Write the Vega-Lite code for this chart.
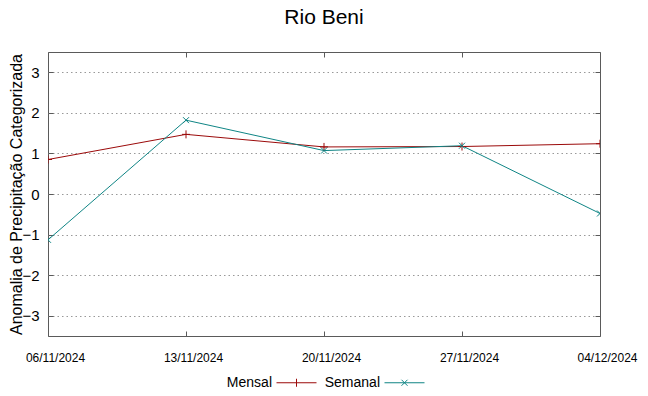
{
  "$schema": "https://vega.github.io/schema/vega-lite/v6.json",
  "width": 552,
  "height": 284,
  "autosize": {"type": "none"},
  "padding": {"left": 48, "top": 52, "right": 48, "bottom": 60},
  "background": "white",
  "title": {"text": "Rio Beni", "fontSize": 21, "font": "Liberation Sans", "fontWeight": "normal", "color": "#000000", "anchor": "middle", "offset": 24},
  "config": {
    "view": {"stroke": "#5a5a5a", "strokeWidth": 1},
    "font": "Liberation Sans",
    "legend": {
      "title": null,
      "orient": "none",
      "legendX": 228,
      "legendY": 310,
      "direction": "horizontal",
      "padding": 0,
      "labelFontSize": 14,
      "labelColor": "#000000",
      "labelAlign": "right",
      "labelOffset": -45,
      "symbolSize": 1600,
      "symbolStrokeWidth": 1,
      "symbolOpacity": 1,
      "columnPadding": 5
    }
  },
  "data": {
    "values": [
      {"data": "06/11/2024", "serie": "Mensal", "valor": 0.85},
      {"data": "13/11/2024", "serie": "Mensal", "valor": 1.47},
      {"data": "20/11/2024", "serie": "Mensal", "valor": 1.16},
      {"data": "27/11/2024", "serie": "Mensal", "valor": 1.17},
      {"data": "04/12/2024", "serie": "Mensal", "valor": 1.24},
      {"data": "06/11/2024", "serie": "Semanal", "valor": -1.13},
      {"data": "13/11/2024", "serie": "Semanal", "valor": 1.82},
      {"data": "20/11/2024", "serie": "Semanal", "valor": 1.07},
      {"data": "27/11/2024", "serie": "Semanal", "valor": 1.19},
      {"data": "04/12/2024", "serie": "Semanal", "valor": -0.48}
    ]
  },
  "encoding": {
    "x": {
      "field": "data", "type": "ordinal",
      "sort": ["06/11/2024", "13/11/2024", "20/11/2024", "27/11/2024", "04/12/2024"],
      "scale": {"type": "point", "padding": 0}
    },
    "y": {
      "field": "valor", "type": "quantitative",
      "scale": {"domain": [-3.5, 3.5], "nice": false, "zero": false}
    }
  },
  "layer": [
    {
      "mark": {"type": "line", "strokeWidth": 1, "clip": true},
      "encoding": {
        "x": {
          "field": "data", "type": "ordinal",
          "sort": ["06/11/2024", "13/11/2024", "20/11/2024", "27/11/2024", "04/12/2024"],
          "scale": {"type": "point", "padding": 0},
          "axis": {"title": null, "labelAngle": 0, "labelFontSize": 12, "labelColor": "#000000", "labelPadding": 21, "labelOffset": 7, "tickSize": -5, "tickColor": "#5a5a5a", "domain": false, "grid": false}
        },
        "y": {
          "field": "valor", "type": "quantitative",
          "scale": {"domain": [-3.5, 3.5], "nice": false, "zero": false},
          "axis": {"title": "Anomalia de Precipitação Categorizada", "titleFontSize": 16, "titleFontWeight": "normal", "titleColor": "#000000", "titlePadding": -3, "values": [-3, -2, -1, 0, 1, 2, 3], "labelFontSize": 15, "labelColor": "#000000", "labelPadding": 14, "tickSize": -5, "tickColor": "#5a5a5a", "domain": false, "grid": true, "gridColor": "#999999", "gridDash": [1.5, 3], "gridWidth": 1}
        },
        "color": {
          "field": "serie", "type": "nominal",
          "scale": {"domain": ["Mensal", "Semanal"], "range": ["#9b0a0a", "#0f8585"]}
        },
        "detail": {"field": "serie"}
      }
    },
    {
      "transform": [{"filter": "datum.serie === 'Mensal'"}],
      "mark": {"type": "point", "filled": false, "strokeWidth": 1, "size": 64, "opacity": 1, "clip": true, "shape": "M-1,0H1M0,-1V1", "color": "#9b0a0a"},
      "encoding": {
        "x": {
          "field": "data", "type": "ordinal",
          "sort": ["06/11/2024", "13/11/2024", "20/11/2024", "27/11/2024", "04/12/2024"],
          "scale": {"type": "point", "padding": 0},
          "axis": {"orient": "top", "title": null, "labels": false, "tickSize": -5, "tickColor": "#5a5a5a", "domain": false, "grid": false}
        },
        "y": {
          "field": "valor", "type": "quantitative",
          "scale": {"domain": [-3.5, 3.5], "nice": false, "zero": false},
          "axis": {"orient": "right", "title": null, "labels": false, "values": [-3, -2, -1, 0, 1, 2, 3], "tickSize": -5, "tickColor": "#5a5a5a", "domain": false, "grid": false}
        }
      }
    },
    {
      "transform": [{"filter": "datum.serie === 'Semanal'"}],
      "mark": {"type": "point", "filled": false, "strokeWidth": 1, "size": 64, "opacity": 1, "clip": true, "shape": "M-0.75,-0.75L0.75,0.75M-0.75,0.75L0.75,-0.75", "color": "#0f8585"},
      "encoding": {
        "x": {
          "field": "data", "type": "ordinal",
          "sort": ["06/11/2024", "13/11/2024", "20/11/2024", "27/11/2024", "04/12/2024"],
          "scale": {"type": "point", "padding": 0},
          "axis": null
        },
        "y": {
          "field": "valor", "type": "quantitative",
          "scale": {"domain": [-3.5, 3.5], "nice": false, "zero": false},
          "axis": null
        }
      }
    },
    {
      "mark": {"type": "point", "filled": false, "strokeWidth": 1, "opacity": 0},
      "encoding": {
        "x": {
          "field": "data", "type": "ordinal",
          "sort": ["06/11/2024", "13/11/2024", "20/11/2024", "27/11/2024", "04/12/2024"],
          "scale": {"type": "point", "padding": 0},
          "axis": null
        },
        "y": {
          "field": "valor", "type": "quantitative",
          "scale": {"domain": [-3.5, 3.5], "nice": false, "zero": false},
          "axis": null
        },
        "color": {
          "field": "serie", "type": "nominal",
          "scale": {"domain": ["Mensal", "Semanal"], "range": ["#9b0a0a", "#0f8585"]}
        },
        "shape": {
          "field": "serie", "type": "nominal",
          "scale": {"domain": ["Mensal", "Semanal"], "range": ["M-1,0H1M0,-0.2V0.2", "M-1,0H1M-0.15,-0.15L0.15,0.15M-0.15,0.15L0.15,-0.15"]}
        }
      }
    }
  ],
  "resolve": {"axis": {"x": "independent", "y": "independent"}}
}
